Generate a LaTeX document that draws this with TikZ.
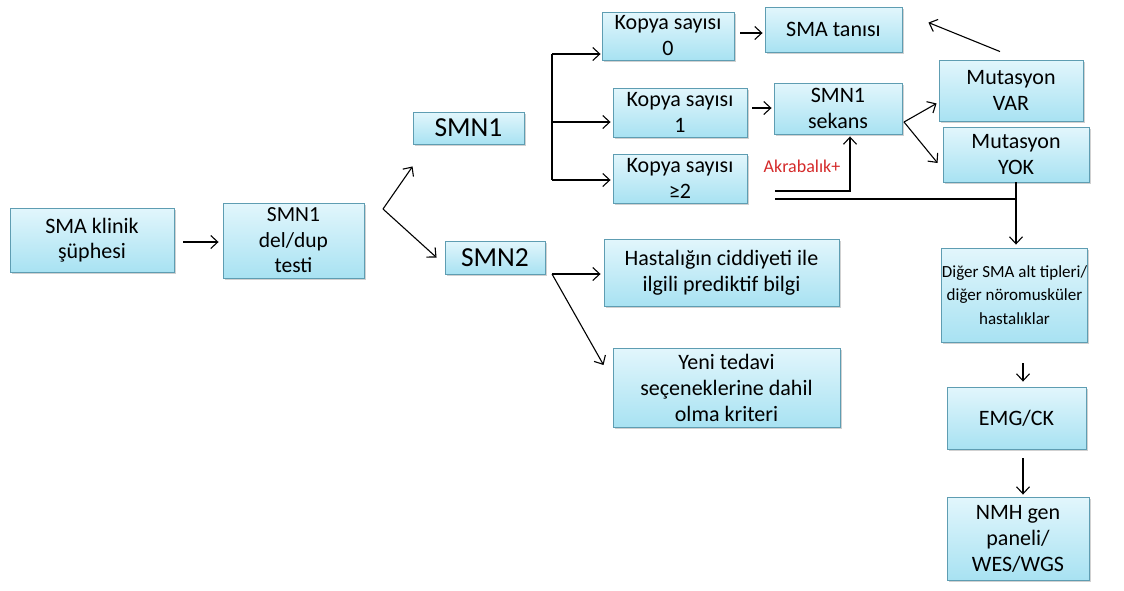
\documentclass[tikz,border=0pt]{standalone}
\usepackage{fontspec}
\setmainfont{Carlito}
\usetikzlibrary{arrows.meta,shadows,calc}
\definecolor{boxtop}{HTML}{E2F6FC}
\definecolor{boxbot}{HTML}{A8E2F2}
\definecolor{boxline}{HTML}{5E9DB2}
\definecolor{akred}{HTML}{D42A2A}
\tikzset{
  fbox/.style={draw=boxline, line width=0.9pt, top color=boxtop, bottom color=boxbot,
    align=center, inner sep=0pt, font=\fontsize{22}{26}\selectfont,
    drop shadow={shadow xshift=1.5pt, shadow yshift=-1.8pt, opacity=0.3, fill=black!60}},
  bigbox/.style={fbox, font=\fontsize{27.5}{30}\selectfont},
  smallbox/.style={fbox, font=\fontsize{17}{23.5}\selectfont},
  arr/.style={line width=1.1pt, -{Straight Barb[length=7pt,width=13pt,line width=1.1pt]}},
  ln/.style={line width=1.1pt},
}
\begin{document}
\begin{tikzpicture}[x=1pt,y=-1pt]
\useasboundingbox (0,0) rectangle (1124,590);
% boxes
\node[fbox, font=\fontsize{22}{25}\selectfont, minimum width=164pt, minimum height=64pt] (klinik) at (92,240) {SMA klinik\\şüphesi};
\node[fbox, font=\fontsize{21.5}{25.5}\selectfont, minimum width=141pt, minimum height=75pt] (deldup) at (293.5,240.5) {SMN1\\del/dup\\testi};
\node[bigbox, minimum width=111pt, minimum height=32pt] (smn1) at (468.5,128) {SMN1};
\node[bigbox, minimum width=100pt, minimum height=33pt] (smn2) at (495,257.5) {SMN2};
\node[fbox, minimum width=132pt, minimum height=48pt] (k0) at (668,36) {Kopya sayısı\\0};
\node[fbox, minimum width=134pt, minimum height=49pt] (k1) at (680,112.5) {Kopya sayısı\\1};
\node[fbox, minimum width=134pt, minimum height=49pt] (k2) at (680,178.5) {Kopya sayısı\\≥2};
\node[fbox, minimum width=137pt, minimum height=45pt] (tani) at (833.5,29.5) {SMA tanısı};
\node[fbox, minimum width=128pt, minimum height=51pt] (sekans) at (838,108.5) {SMN1\\sekans};
\node[fbox, minimum width=144pt, minimum height=61pt] (var) at (1011,90.5) {Mutasyon\\VAR};
\node[fbox, minimum width=146pt, minimum height=55pt] (yok) at (1016,154.5) {Mutasyon\\YOK};
\node[smallbox, minimum width=145pt, minimum height=94pt] (diger) at (1014.5,295) {Diğer SMA alt tipleri/\\diğer nöromusküler\\hastalıklar};
\node[fbox, minimum width=139pt, minimum height=62pt] (emg) at (1016.5,418) {EMG/CK};
\node[fbox, minimum width=142pt, minimum height=83pt] (nmh) at (1018,538.5) {NMH gen\\paneli/\\WES/WGS};
\node[fbox, minimum width=235pt, minimum height=67pt] (hast) at (721.5,272.5) {Hastalığın ciddiyeti ile\\ilgili prediktif bilgi};
\node[fbox, minimum width=227pt, minimum height=79pt] (yeni) at (726.5,387.5) {Yeni tedavi\\seçeneklerine dahil\\olma kriteri};
\node[text=akred, font=\fontsize{18}{20}\selectfont, inner sep=0pt] (akr) at (802,166) {Akrabalık+};
% coordinates
\coordinate (v1) at (383,209);
\coordinate (bt) at (552,54);
\coordinate (bm) at (552,122);
\coordinate (bb) at (552,180);
\coordinate (sv) at (904,122);
\coordinate (v2) at (552,274);
\coordinate (a1) at (775,191);
\coordinate (a2) at (775,199);
% connectors
\draw[arr] ([xshift=9pt,yshift=-2pt]klinik.east) -- ([xshift=-4pt,yshift=-1.5pt]deldup.west);
\draw[arr] (v1) -- ($(smn1.south west)+(0,22)$);
\draw[arr] (v1) -- ($(smn2.west)+(-8,0)$);
\draw[ln] (bt) -- (bb);
\draw[arr] (bt) -- ($(k0.west |- bt)+(-1,0)$);
\draw[arr] (bm) -- ($(k1.west |- bm)+(-2,0)$);
\draw[arr] (bb) -- ($(k2.west |- bb)+(-2,0)$);
\draw[arr] ([xshift=6pt,yshift=3pt]k0.east) -- ($(tani.west)+(-2,3.5)$);
\draw[arr] ([xshift=5pt,yshift=4.5pt]k1.east) -- ($(sekans.west)+(-2,-0.5)$);
\draw[arr] (sv) -- ($(var.south west)+(-2,-18)$);
\draw[arr] (sv) -- ($(yok.west)+(-5,8.5)$);
\draw[arr] ($(var.north)+(-11,-8)$) -- ($(tani.north east)+(26,16)$);
\draw[arr] (a1) -| ($(sekans.south)+(12,2)$);
\draw[ln] (a2) -- (a2 -| yok.south);
\draw[arr] (yok.south) -- ($(yok.south |- diger.north)+(0,-3)$);
\draw[arr] ($(diger.south)+(8.5,21)$) -- ($(emg.north)+(6.5,-5)$);
\draw[arr] ($(emg.south)+(6.5,9)$) -- ($(nmh.north)+(5,-2)$);
\draw[arr] (v2) -- ($(hast.west)+(-3,1.5)$);
\draw[arr] (v2) -- ($(yeni.west)+(-9,-22.5)$);
\end{tikzpicture}
\end{document}
